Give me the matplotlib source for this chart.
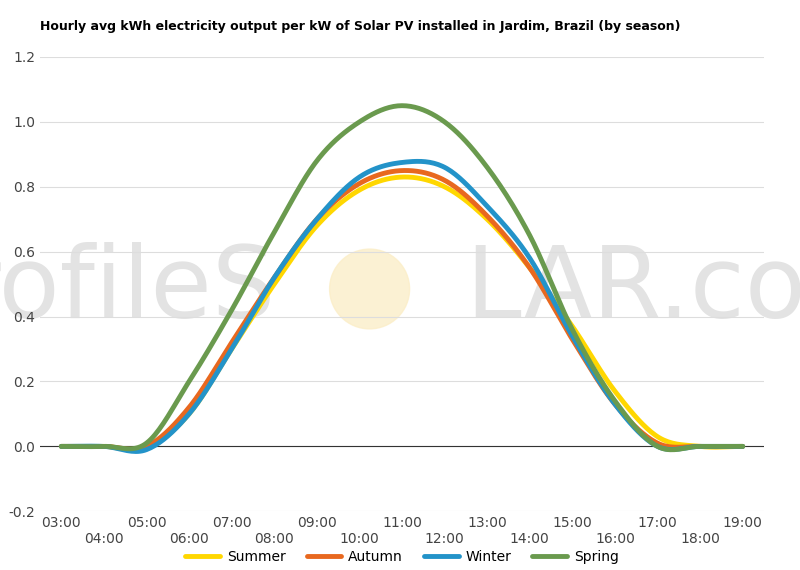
import numpy as np
import matplotlib
matplotlib.use("Agg")
import matplotlib.pyplot as plt
from matplotlib.patches import Ellipse

hours = ["03:00","04:00","05:00","06:00","07:00","08:00","09:00","10:00","11:00","12:00","13:00","14:00","15:00","16:00","17:00","18:00","19:00"]
summer = [0,0,-0.005,0.10,0.30,0.50,0.68,0.79,0.83,0.80,0.70,0.55,0.37,0.17,0.03,0.0,0]
autumn = [0,0,0.0,0.12,0.32,0.52,0.70,0.81,0.85,0.82,0.71,0.55,0.33,0.13,0.01,0,0]
winter = [0,0,-0.01,0.10,0.30,0.52,0.70,0.83,0.875,0.86,0.74,0.58,0.34,0.13,0.0,0,0]
spring = [0,0,0.01,0.20,0.42,0.66,0.88,1.00,1.05,1.00,0.86,0.65,0.36,0.14,0.0,0,0]

def smooth(y, n=20):
    y = np.asarray(y, float)
    p = np.concatenate([[y[0]], y, [y[-1]]])
    xs, ys = [], []
    for i in range(len(y)-1):
        p0,p1,p2,p3 = p[i],p[i+1],p[i+2],p[i+3]
        t = np.linspace(0,1,n,endpoint=False)
        ys.append(0.5*((2*p1)+(-p0+p2)*t+(2*p0-5*p1+4*p2-p3)*t**2+(-p0+3*p1-3*p2+p3)*t**3))
        xs.append(i+t)
    xs.append([len(y)-1]); ys.append([y[-1]])
    return np.concatenate(xs), np.concatenate(ys)

fig = plt.figure(figsize=(8,5.7), dpi=100)
ax = fig.add_axes([0.05, 0.103, 0.905, 0.797])
ax.set_xlim(-0.5, 16.5)
ax.set_ylim(-0.2, 1.2)
ax.set_yticks(np.arange(-0.2,1.21,0.2))
ax.set_yticklabels([f"{v:.1f}" for v in np.arange(-0.2,1.21,0.2)], color="#444", fontsize=10)
ax.grid(axis="y", color="#ddd", lw=0.8)
ax.set_axisbelow(True)
ax.axhline(0, color="#333", lw=0.8)
for s in ax.spines.values(): s.set_visible(False)
ax.tick_params(length=0)
ax.set_xticks(range(len(hours)))
ax.set_xticklabels([h if i%2==0 else "\n"+h for i,h in enumerate(hours)], color="#444", fontsize=10)

ax.add_patch(Ellipse((0.462, 0.493), 0.1, 0.14, transform=fig.transFigure, color="#fbeec8", alpha=0.8, zorder=0.4, clip_on=False))
ax.text(0.5, 0.49, "profileS      LAR.com", fontsize=72, color="#cccccc", alpha=0.55, ha="center", va="center",
        transform=fig.transFigure, zorder=0.5, clip_on=False)

for data,c,l in [(summer,"#ffd700","Summer"),(autumn,"#e8681f","Autumn"),(winter,"#2393c9","Winter"),(spring,"#6a9a4e","Spring")]:
    x,y = smooth(data)
    ax.plot(x,y,color=c,lw=3.5,label=l,solid_capstyle="round", zorder=2)
ax.legend(loc="upper center", bbox_to_anchor=(0.5,-0.085), ncol=4, frameon=False, fontsize=10, handlelength=2.5,
          columnspacing=1.5, handletextpad=0.5, borderaxespad=0, borderpad=0)
fig.text(0.05, 0.953, "Hourly avg kWh electricity output per kW of Solar PV installed in Jardim, Brazil (by season)",
         fontsize=9, fontweight="bold", va="center")
fig.savefig("out.png")
